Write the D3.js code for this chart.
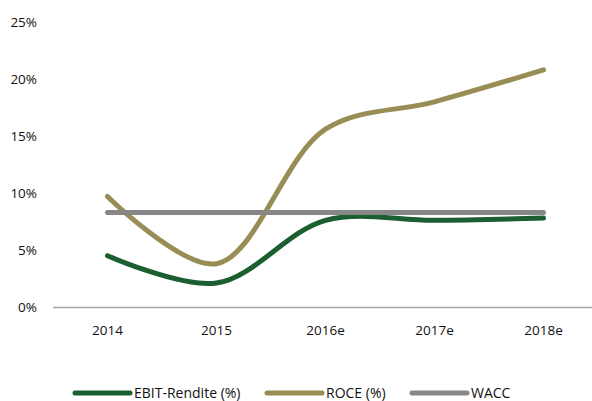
<!DOCTYPE html>
<html>
<head>
<meta charset="utf-8">
<script src="https://d3js.org/d3.v7.min.js"></script>
<style>
  body { margin: 0; background: #fff; }
  text { font-family: "Open Sans", "Noto Sans", sans-serif; fill: #111; }
  .line { fill: none; stroke-width: 5px; stroke-linecap: round; }
</style>
</head>
<body>
<svg width="592" height="401"></svg>
<script>
const years = ["2014", "2015", "2016e", "2017e", "2018e"];
const ebit = [4.5, 2.1, 7.6, 7.6, 7.8];
const roce = [9.7, 3.8, 15.6, 18.0, 20.8];
const wacc = [8.3, 8.3, 8.3, 8.3, 8.3];
const yTicks = [0, 5, 10, 15, 20, 25];

const series = [
  { name: "EBIT-Rendite (%)", values: ebit, color: "#1b5e2f" },
  { name: "ROCE (%)", values: roce, color: "#978d55" },
  { name: "WACC", values: wacc, color: "#878787" }
];

var svg = d3.select("svg"),
    margin = { left: 53, right: 0, top: 22, bottom: 94 },
    width = 598 - margin.left,
    height = 307 - margin.top;

var g = svg.append("g").attr("transform", "translate(" + margin.left + "," + margin.top + ")");

var x = d3.scaleBand().domain(years).range([0, width]);
var y = d3.scaleLinear().domain([0, 25]).range([height, 0]);

// y labels
g.selectAll(".ylab").data(yTicks).enter().append("text")
  .attr("x", -16)
  .attr("y", d => y(d))
  .attr("dy", "0.35em")
  .attr("text-anchor", "end")
  .style("font-size", "13.5px")
  .text(d => d + "%");

// x axis line
g.append("line")
  .attr("x1", 0).attr("x2", width)
  .attr("y1", height + 0.5).attr("y2", height + 0.5)
  .attr("stroke", "#a6a6a6").attr("stroke-width", 1.5);

g.selectAll(".xlab").data(years).enter().append("text")
  .attr("x", d => x(d) + x.bandwidth() / 2)
  .attr("y", height + 28)
  .attr("text-anchor", "middle")
  .style("font-size", "13.5px")
  .text(d => d);

var line = d3.line()
  .x((d, i) => x(years[i]) + x.bandwidth() / 2)
  .y(d => y(d))
  .curve(d3.curveCatmullRom.alpha(0.5));

series.forEach(function(s) {
  g.append("path")
    .datum(s.values)
    .attr("class", "line")
    .attr("stroke", s.color)
    .attr("d", line);
});

// legend
var legendX = [75, 267, 412];
var lg = svg.append("g");
series.forEach(function(s, i) {
  lg.append("line")
    .attr("x1", legendX[i]).attr("x2", legendX[i] + 55)
    .attr("y1", 393).attr("y2", 393)
    .attr("stroke", s.color).attr("stroke-width", 5).attr("stroke-linecap", "round");
  lg.append("text")
    .attr("x", legendX[i] + 59)
    .attr("y", 393)
    .attr("dy", "0.35em")
    .style("font-size", "14px")
    .text(s.name);
});
</script>
</body>
</html>
